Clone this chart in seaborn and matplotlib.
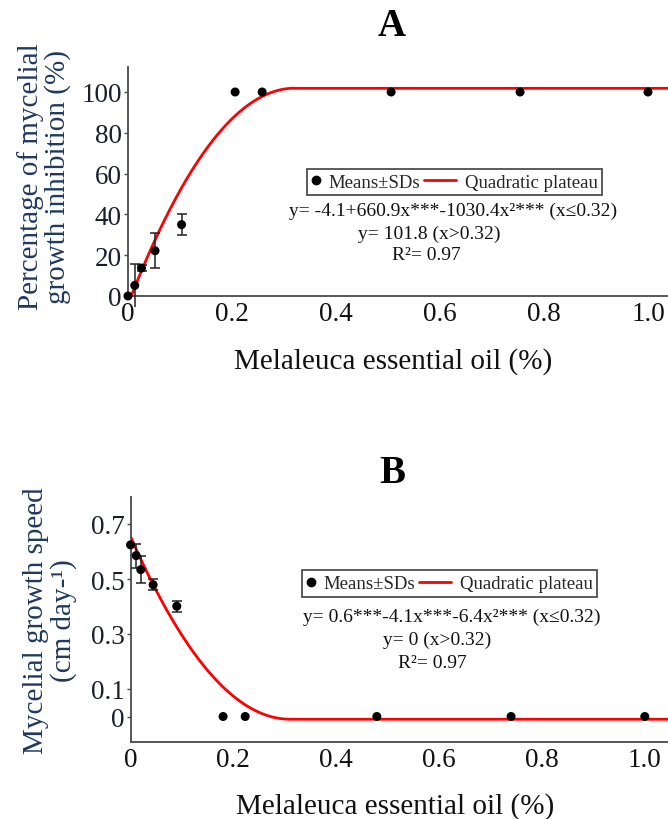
import numpy as np
import pandas as pd
import matplotlib
matplotlib.use("Agg")
import matplotlib.pyplot as plt
import seaborn as sns
from matplotlib.lines import Line2D
from matplotlib.legend_handler import HandlerLine2D

# ---------------- data ----------------
# Panel A: percentage of mycelial growth inhibition
a_conc = [0.0, 0.013, 0.026, 0.052, 0.103, 0.206, 0.258, 0.506, 0.754, 1.0]
a_inhib = [0.0, 5.2, 13.7, 22.2, 35.0, 100.0, 100.0, 100.0, 100.0, 100.0]
a_sd = [0.0, 10.5, 1.5, 8.5, 5.0, 0.0, 0.0, 0.0, 0.0, 0.0]
a_coef = [-4.1, 660.9, -1030.4]          # quadratic part (x <= 0.32)
a_plateau_x = 0.32
a_plateau_y = 101.8
a_yticks = [0, 20, 40, 60, 80, 100]
a_eq = ["y= -4.1+660.9x***-1030.4x²*** (x≤0.32)",
        "y= 101.8 (x>0.32)",
        "R²= 0.97"]

# Panel B: mycelial growth speed
b_conc = [0.0, 0.011, 0.020, 0.044, 0.090, 0.180, 0.223, 0.479, 0.740, 1.0]
b_speed = [0.624, 0.585, 0.534, 0.479, 0.401, 0.0, 0.0, 0.0, 0.0, 0.0]
b_sd = [0.0, 0.044, 0.048, 0.020, 0.020, 0.0, 0.0, 0.0, 0.0, 0.0]
b_coef = [0.655, -4.29, 6.92]            # drawn curve (x <= plateau)
b_plateau_x = 0.31
b_plateau_y = -0.01
b_yticks = [0, 0.1, 0.3, 0.5, 0.7]
b_eq = ["y= 0.6***-4.1x***-6.4x²*** (x≤0.32)",
        "y= 0 (x>0.32)",
        "R²= 0.97"]

x_ticks = [0, 0.2, 0.4, 0.6, 0.8, 1.0]
x_ticklabels = ["0", "0.2", "0.4", "0.6", "0.8", "1.0"]
xlabel = "Melaleuca essential oil (%)"
a_ylabel = "Percentage of mycelial\ngrowth inhibition (%)"
b_ylabel = "Mycelial growth speed\n(cm day-¹)"
legend_labels = ["Means±SDs", "Quadratic plateau"]

# ---------------- style ----------------
sns.set_theme(style="ticks")
plt.rcParams["font.family"] = ["Liberation Serif", "DejaVu Serif"]

W, H = 668, 820
fig = plt.figure(figsize=(W / 100, H / 100), dpi=100)


def fx(px):
    return px / W


def fy(py):
    return 1 - py / H


SPINE = "#4a4a4a"
NAVY = "#1f3a5f"


class HandlerLongLine(HandlerLine2D):
    """Legend line that extends to the left of the (short) handle box."""

    def create_artists(self, legend, orig_handle, xdescent, ydescent, width,
                       height, fontsize, trans):
        L = 1.75 * fontsize
        x1 = -xdescent + width
        x0 = x1 - L
        y = (height - ydescent) / 2
        line = Line2D([x0, x1], [y, y])
        self.update_prop(line, orig_handle, legend)
        line.set_transform(trans)
        return [line]


def panel(rect, conc, vals, sds, coef, px0, py0, xlim, ylim, yticks, ytl,
          ylabel, ylab_xy, xlab_xy):
    ax = fig.add_axes(rect)
    df = pd.DataFrame({"conc": conc, "val": vals, "sd": sds})
    # fitted quadratic plateau curve
    xs = np.linspace(0, xlim[1], 600)
    ys = np.where(xs <= px0, coef[0] + coef[1] * xs + coef[2] * xs ** 2, py0)
    cdf = pd.DataFrame({"x": xs, "y": ys})
    sns.lineplot(data=cdf, x="x", y="y", color="#ff0000", lw=2.0, ax=ax,
                 zorder=2, legend=False)
    # error bars
    m = df["sd"] > 0
    ax.errorbar(df.loc[m, "conc"], df.loc[m, "val"], yerr=df.loc[m, "sd"],
                fmt="none", ecolor="#222222", elinewidth=1.1, capsize=3.5,
                capthick=1.1, zorder=3)
    sc = sns.scatterplot(data=df, x="conc", y="val", color="black", s=42,
                         edgecolor="none", ax=ax, zorder=4, legend=False)
    for c in sc.collections:
        c.set_clip_on(False)
    ax.set_xlim(*xlim)
    ax.set_ylim(*ylim)
    ax.set_xticks(x_ticks)
    ax.set_xticklabels(x_ticklabels)
    ax.set_yticks(yticks)
    ax.set_yticklabels(ytl)
    sns.despine(ax=ax)
    for s in ("left", "bottom"):
        ax.spines[s].set_color(SPINE)
        ax.spines[s].set_linewidth(1.3)
    ax.tick_params(axis="x", length=0, pad=3.5, labelsize=19.5,
                   labelcolor="#111111")
    ax.tick_params(axis="y", length=3, width=1, color=SPINE, pad=1.5,
                   labelsize=19.5, labelcolor="#1a1f2e")
    ax.set_xlabel(xlabel, fontsize=21, color="#111111")
    ax.set_ylabel(ylabel, fontsize=21, color=NAVY, linespacing=1.05)
    ax.xaxis.set_label_coords(*xlab_xy)
    ax.xaxis.label.set_va("center")
    ax.yaxis.set_label_coords(*ylab_xy)
    ax.yaxis.label.set_va("center")
    ax.set_facecolor("white")
    return ax


def legend_and_text(cx, cy, eq, eq_pos):
    dot = Line2D([], [], marker="o", color="black", ls="none", markersize=6)
    line = Line2D([], [], color="#ff0000", lw=2.0)
    leg = fig.legend([dot, line], legend_labels, loc="center",
                     bbox_to_anchor=(fx(cx), fy(cy)), ncol=2, frameon=True,
                     fancybox=False, edgecolor="#222222", fontsize=13.5,
                     handlelength=0.45, handletextpad=0.45, columnspacing=1.5,
                     borderpad=0.25, borderaxespad=0,
                     handler_map={line: HandlerLongLine()})
    leg.get_frame().set_linewidth(1.3)
    for t, (x, y) in zip(eq, eq_pos):
        fig.text(fx(x), fy(y), t, ha="center", va="center", fontsize=14,
                 color="#111111")


# ---------------- panel A ----------------
axA = panel([fx(128), fy(297), fx(668) - fx(128), fy(68) - fy(297)],
            a_conc, a_inhib, a_sd, a_coef, a_plateau_x, a_plateau_y,
            (0, 540 / 520), (0, 229 / 2.04), a_yticks,
            [str(v) for v in a_yticks], a_ylabel,
            ((44 - 128) / 540, (297 - 177) / 229),
            ((393 - 128) / 540, (297 - 362) / 229))
legend_and_text(454.5, 183, a_eq, [(453, 211), (429, 234), (426, 256)])
fig.text(fx(392), fy(27), "A", ha="center", va="center", fontsize=28,
         fontweight="bold", color="black")

# ---------------- panel B ----------------
b_px_unit = 514.3
b_py_unit = 275.0
axB = panel([fx(130.5), fy(742.7), fx(668) - fx(130.5), fy(498) - fy(742.7)],
            b_conc, b_speed, b_sd, b_coef, b_plateau_x, b_plateau_y,
            (0, 537.5 / b_px_unit),
            (-(742.7 - 717.5) / b_py_unit, (717.5 - 498) / b_py_unit),
            b_yticks, ["0", "0.1", "0.3", "0.5", "0.7"], b_ylabel,
            ((50 - 130.5) / 537.5, (742.7 - 621) / 244.7),
            ((395 - 130.5) / 537.5, (742.7 - 807) / 244.7))
legend_and_text(449.5, 584.5, b_eq, [(452, 617), (437, 640), (432, 663)])
fig.text(fx(392), fy(474), "B", ha="center", va="center", fontsize=28,
         fontweight="bold", color="black")

fig.savefig("out.png", dpi=100, facecolor="white")
